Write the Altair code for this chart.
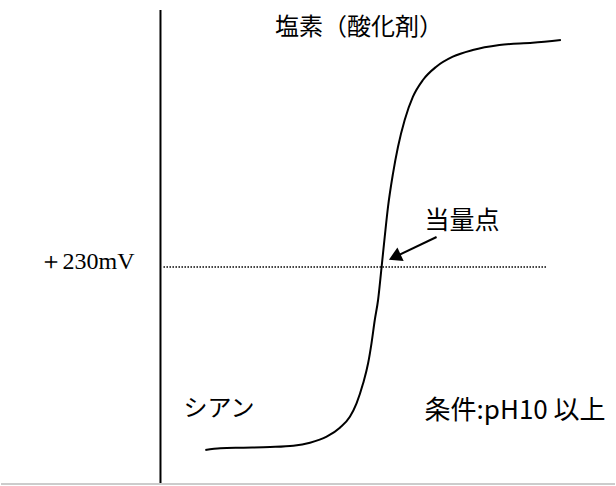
import altair as alt
import pandas as pd

# titration curve (x: titrant amount, arbitrary units; y: potential, mV-like units)
curve_x = [205, 220, 243.3, 270, 293.3, 310, 326.7, 340, 350, 356.7, 363.3, 368.3, 371.7, 375, 378.3,
           381.7, 385, 388.3, 393.3, 398.3, 405, 413.3, 423.3, 436.7, 453.3, 473.3, 500, 533.3, 561.7]
curve_y = [47, 48.7, 49.3, 50, 51.3, 54.3, 60.3, 69.3, 80.3, 93.7, 113.7, 133.7, 153.7, 177, 197,
           228.7, 260.3, 290.3, 323.7, 350.3, 377, 400.3, 417, 430.3, 440.3, 447, 452, 454.3, 457]

equivalence_mv = 230
equiv_x_range = [163, 548]
axis_x = 160
axis_y_range = [14, 487]
base_y = 13

labels_text = ["塩素（酸化剤）", "当量点", "シアン", "条件:pH10 以上"]
labels_x = [275, 425, 183, 425]
labels_y = [469.5, 276, 88, 86]
labels_size = [24, 25, 24, 26]

mv_label = "＋230mV"
mv_label_x = 134
mv_label_y = 235

arrow_tail = [437, 260]
arrow_head = [395, 240]

X = alt.Scale(domain=[0, 616])
Y = alt.Scale(domain=[11, 497])


def xq(f="x"):
    return alt.X(f + ":Q", scale=X, axis=None)


def yq(f="y"):
    return alt.Y(f + ":Q", scale=Y, axis=None)


curve_df = pd.DataFrame({"x": curve_x, "y": curve_y})
curve = alt.Chart(curve_df).mark_line(color="black", strokeWidth=2, interpolate="monotone").encode(
    x=xq(), y=yq())

axis_df = pd.DataFrame({"x": [axis_x], "y": [axis_y_range[0]], "y2": [axis_y_range[1]]})
vaxis = alt.Chart(axis_df).mark_rule(color="black", strokeWidth=2).encode(
    x=xq(), y=yq(), y2="y2:Q")

base_df = pd.DataFrame({"x": [0], "x2": [616], "y": [base_y]})
baseline = alt.Chart(base_df).mark_rule(color="#999999", strokeWidth=1).encode(
    x=xq(), x2="x2:Q", y=yq())

eq_df = pd.DataFrame({"x": [equiv_x_range[0]], "x2": [equiv_x_range[1]], "y": [equivalence_mv]})
eqline = alt.Chart(eq_df).mark_rule(color="black", strokeWidth=1.5, strokeDash=[1.5, 1.5]).encode(
    x=xq(), x2="x2:Q", y=yq())

arrow_df = pd.DataFrame({"x": [arrow_tail[0]], "y": [arrow_tail[1]],
                         "x2": [arrow_head[0]], "y2": [arrow_head[1]]})
arrow_line = alt.Chart(arrow_df).mark_rule(color="black", strokeWidth=2).encode(
    x=xq(), y=yq(), x2="x2:Q", y2="y2:Q")

head_df = pd.DataFrame({"x": [arrow_head[0]], "y": [arrow_head[1]]})
arrow_headmark = alt.Chart(head_df).mark_point(
    shape="triangle-up", filled=True, color="black", opacity=1, size=220, angle=245).encode(
    x=xq(), y=yq())

lab_df = pd.DataFrame({"x": labels_x, "y": labels_y, "t": labels_text, "s": labels_size})
labels = alt.Chart(lab_df).mark_text(
    align="left", baseline="middle", font="Noto Sans CJK JP", color="black").encode(
    x=xq(), y=yq(), text="t:N", size=alt.Size("s:Q", scale=None, legend=None))

mv_df = pd.DataFrame({"x": [mv_label_x], "y": [mv_label_y], "t": [mv_label]})
mvtext = alt.Chart(mv_df).mark_text(
    align="right", baseline="middle", font="Liberation Serif", fontSize=24, color="black").encode(
    x=xq(), y=yq(), text="t:N")

chart = alt.layer(baseline, vaxis, eqline, curve, arrow_line, arrow_headmark, labels, mvtext).properties(
    width=616, height=486, padding=0,
    autosize=alt.AutoSizeParams(type="fit", contains="padding"),
).configure_view(strokeWidth=0)

chart.save("out.html", embed_options={"renderer": "svg", "actions": False})
